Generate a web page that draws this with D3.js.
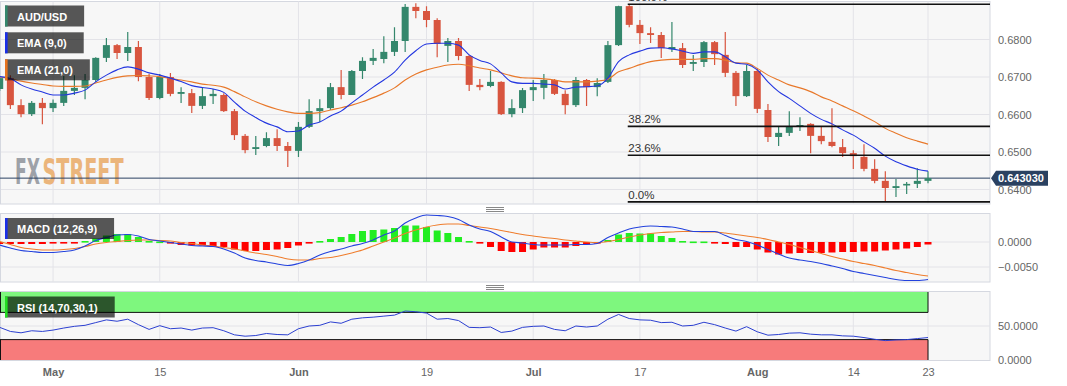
<!DOCTYPE html>
<html><head><meta charset="utf-8">
<script src="https://cdn.jsdelivr.net/npm/d3@7"></script>
<style>
body{margin:0;background:#fff}
svg{display:block}
text{font-family:"Liberation Sans",Arial,sans-serif}
</style>
</head><body>
<svg id="c" width="1067" height="386"></svg>
<script>
// ---------- DATA ----------
const symbol = "AUD/USD";
const startDate = "2023-04-24";
const open = [0.6668,0.6697,0.6625,0.6601,0.6631,0.6617,0.6631,0.6663,0.6671,0.6692,
0.6751,0.6785,0.6764,0.6780,0.6700,0.6644,0.6700,0.6655,0.6657,0.6623,
0.6649,0.6652,0.6609,0.6543,0.6508,0.6516,0.6537,0.6516,0.6503,0.6567,
0.6609,0.6617,0.6673,0.6652,0.6716,0.6743,0.6748,0.6767,0.6796,0.6887,
0.6876,0.6852,0.6783,0.6796,0.6756,0.6679,0.6676,0.6687,0.6601,0.6617,
0.6665,0.6671,0.6692,0.6655,0.6625,0.6692,0.6673,0.6687,0.6785,0.6889,
0.6839,0.6817,0.6812,0.6774,0.6777,0.6735,0.6740,0.6793,0.6759,0.6711,
0.6649,0.6716,0.6612,0.6540,0.6551,0.6567,0.6575,0.6543,0.6527,0.6513,
0.6497,0.6487,0.6455,0.6423,0.6404,0.6412,0.6415,0.6423];
const high = [0.6703,0.6705,0.6641,0.6636,0.6644,0.6640,0.6703,0.6705,0.6708,0.6753,
0.6804,0.6788,0.6820,0.6796,0.6708,0.6708,0.6711,0.6673,0.6668,0.6673,
0.6668,0.6657,0.6615,0.6548,0.6543,0.6553,0.6561,0.6527,0.6580,0.6641,
0.6641,0.6684,0.6719,0.6719,0.6753,0.6775,0.6809,0.6833,0.6895,0.6897,
0.6889,0.6857,0.6804,0.6804,0.6759,0.6695,0.6716,0.6689,0.6641,0.6671,
0.6692,0.6708,0.6695,0.6665,0.6700,0.6695,0.6697,0.6796,0.6890,0.6894,
0.6852,0.6833,0.6820,0.6847,0.6791,0.6759,0.6796,0.6796,0.6820,0.6716,
0.6732,0.6724,0.6628,0.6567,0.6609,0.6593,0.6577,0.6569,0.6617,0.6535,
0.6505,0.6521,0.6481,0.6449,0.6428,0.6420,0.6457,0.6449];
const low = [0.6663,0.6615,0.6593,0.6596,0.6574,0.6607,0.6623,0.6652,0.6641,0.6687,
0.6740,0.6748,0.6743,0.6689,0.6639,0.6641,0.6649,0.6631,0.6604,0.6615,
0.6628,0.6607,0.6532,0.6497,0.6492,0.6513,0.6503,0.6460,0.6487,0.6564,
0.6580,0.6612,0.6641,0.6652,0.6695,0.6732,0.6737,0.6756,0.6767,0.6857,
0.6833,0.6753,0.6740,0.6745,0.6663,0.6665,0.6673,0.6599,0.6593,0.6604,
0.6636,0.6641,0.6652,0.6601,0.6620,0.6623,0.6649,0.6684,0.6783,0.6833,
0.6788,0.6791,0.6751,0.6767,0.6724,0.6716,0.6727,0.6732,0.6700,0.6623,
0.6647,0.6604,0.6527,0.6516,0.6543,0.6556,0.6497,0.6521,0.6513,0.6487,
0.6455,0.6449,0.6417,0.6367,0.6380,0.6388,0.6404,0.6417];
const close = [0.6697,0.6625,0.6601,0.6631,0.6617,0.6631,0.6663,0.6671,0.6692,0.6751,
0.6785,0.6764,0.6780,0.6700,0.6644,0.6700,0.6655,0.6660,0.6623,0.6649,
0.6655,0.6609,0.6545,0.6505,0.6513,0.6537,0.6516,0.6503,0.6567,0.6609,
0.6617,0.6673,0.6652,0.6716,0.6743,0.6751,0.6767,0.6796,0.6887,0.6876,
0.6852,0.6788,0.6796,0.6756,0.6679,0.6673,0.6687,0.6601,0.6617,0.6665,
0.6673,0.6692,0.6655,0.6625,0.6692,0.6673,0.6684,0.6785,0.6889,0.6839,
0.6817,0.6812,0.6777,0.6780,0.6732,0.6740,0.6793,0.6761,0.6711,0.6649,
0.6716,0.6615,0.6540,0.6551,0.6567,0.6572,0.6543,0.6529,0.6516,0.6497,
0.6489,0.6455,0.6423,0.6404,0.6409,0.6415,0.6423,0.64303];
const ema9 = [0.6701,0.6696,0.6679,0.6668,0.6660,0.6652,0.6652,0.6657,0.6665,0.6687,
0.6705,0.6719,0.6727,0.6721,0.6711,0.6705,0.6697,0.6688,0.6677,0.6672,
0.6668,0.6659,0.6633,0.6609,0.6592,0.6577,0.6567,0.6554,0.6556,0.6572,
0.6580,0.6596,0.6609,0.6631,0.6652,0.6673,0.6692,0.6713,0.6745,0.6770,
0.6788,0.6790,0.6790,0.6785,0.6759,0.6744,0.6735,0.6711,0.6687,0.6683,
0.6683,0.6681,0.6679,0.6668,0.6673,0.6674,0.6676,0.6697,0.6741,0.6759,
0.6769,0.6777,0.6778,0.6775,0.6769,0.6763,0.6767,0.6767,0.6754,0.6737,
0.6734,0.6719,0.6687,0.6661,0.6643,0.6623,0.6603,0.6587,0.6575,0.6559,
0.6545,0.6527,0.6510,0.6489,0.6474,0.6463,0.6454,0.6449];
const ema21 = [0.6700,0.6695,0.6689,0.6684,0.6680,0.6676,0.6675,0.6675,0.6676,0.6684,
0.6692,0.6699,0.6703,0.6704,0.6703,0.6701,0.6696,0.6692,0.6687,0.6681,
0.6678,0.6673,0.6661,0.6647,0.6634,0.6623,0.6614,0.6607,0.6603,0.6603,
0.6605,0.6612,0.6618,0.6625,0.6634,0.6645,0.6657,0.6671,0.6692,0.6708,
0.6719,0.6726,0.6732,0.6734,0.6730,0.6724,0.6719,0.6711,0.6703,0.6698,
0.6697,0.6695,0.6692,0.6687,0.6687,0.6687,0.6689,0.6694,0.6714,0.6723,
0.6733,0.6741,0.6745,0.6747,0.6747,0.6747,0.6749,0.6749,0.6745,0.6738,
0.6737,0.6723,0.6705,0.6692,0.6679,0.6671,0.6661,0.6647,0.6636,0.6623,
0.6610,0.6596,0.6581,0.6563,0.6550,0.6538,0.6529,0.6521];
const macdLine = [-0.0006,-0.0012,-0.0017,-0.0019,-0.0021,-0.0021,-0.0019,-0.0016,-0.0008,0.0003,
0.0009,0.0014,0.0015,0.0012,0.0005,0.0002,-0.0001,-0.0004,-0.0007,-0.0008,
-0.0009,-0.0014,-0.0022,-0.0032,-0.0037,-0.0040,-0.0044,-0.0047,-0.0043,-0.0036,
-0.0026,-0.0019,-0.0014,-0.0008,-0.0003,0.0004,0.0014,0.0022,0.0038,0.0048,
0.0054,0.0053,0.0051,0.0045,0.0034,0.0026,0.0021,0.0010,0.0000,-0.0002,
-0.0005,-0.0006,-0.0006,-0.0006,-0.0005,-0.0005,-0.0003,0.0009,0.0018,0.0026,
0.0030,0.0032,0.0031,0.0030,0.0026,0.0021,0.0021,0.0021,0.0013,0.0005,
0.0001,-0.0006,-0.0015,-0.0024,-0.0032,-0.0036,-0.0039,-0.0043,-0.0048,-0.0053,
-0.0059,-0.0063,-0.0067,-0.0071,-0.0075,-0.0077,-0.0077,-0.0075];
const signalLine = [0.0001,-0.0005,-0.0011,-0.0014,-0.0016,-0.0016,-0.0015,-0.0013,-0.0009,-0.0004,
-0.0001,0.0001,0.0003,0.0004,0.0004,0.0003,0.0002,-0.0001,-0.0003,-0.0006,
-0.0008,-0.0011,-0.0014,-0.0018,-0.0022,-0.0025,-0.0029,-0.0034,-0.0036,-0.0036,
-0.0033,-0.0031,-0.0027,-0.0022,-0.0016,-0.0008,0.0000,0.0008,0.0017,0.0024,
0.0030,0.0034,0.0036,0.0036,0.0033,0.0030,0.0027,0.0023,0.0019,0.0015,
0.0012,0.0009,0.0007,0.0004,0.0002,0.0000,-0.0001,0.0001,0.0005,0.0010,
0.0014,0.0017,0.0019,0.0020,0.0021,0.0021,0.0020,0.0020,0.0018,0.0015,
0.0012,0.0009,0.0005,0.0000,-0.0005,-0.0011,-0.0017,-0.0023,-0.0029,-0.0034,
-0.0039,-0.0043,-0.0047,-0.0052,-0.0057,-0.0061,-0.0065,-0.0068];
const macdHist = [-0.0004,-0.0004,-0.0004,-0.0004,-0.0004,-0.0003,-0.0003,-0.0002,0.0002,0.0007,
0.0013,0.0016,0.0016,0.0010,0.0002,0.0001,-0.0001,-0.0006,-0.0007,-0.0007,
-0.0008,-0.0010,-0.0015,-0.0018,-0.0018,-0.0016,-0.0015,-0.0012,-0.0007,-0.0002,
0.0002,0.0006,0.0010,0.0016,0.0022,0.0024,0.0025,0.0028,0.0033,0.0033,
0.0030,0.0023,0.0018,0.0010,0.0002,-0.0002,-0.0010,-0.0018,-0.0020,-0.0020,
-0.0015,-0.0011,-0.0011,-0.0011,-0.0008,-0.0005,-0.0003,0.0004,0.0015,0.0018,
0.0017,0.0017,0.0012,0.0008,0.0002,0.0001,0.0001,-0.0001,-0.0004,-0.0010,
-0.0010,-0.0015,-0.0021,-0.0025,-0.0023,-0.0022,-0.0022,-0.0022,-0.0021,-0.0020,
-0.0020,-0.0019,-0.0019,-0.0017,-0.0015,-0.0013,-0.0010,-0.0005];
const rsi = [48,42,40,43,42,44,47,49.5,51,55,
59,57,60,52,45,50.5,46,47,44,47,
47.5,43,37,35,36,39,37.5,37,46,50,
51,56,54,60,62,63,64.5,66,72,71,
69,60,61,58,48,47.5,48.5,40.5,42.5,48,
49.5,50,45,43,50,48.5,50,60,67,61,
59,58.5,55,55.5,50,51,55.5,52,47,42.5,
49,41.5,36.5,37.5,39.5,40,38,37,37,35.5,
35,33,30.5,28.5,29.5,30,31.5,33];
const priceTicks = [0.64, 0.65, 0.66, 0.67, 0.68];
const macdTicks = [0, -0.005];
const rsiTicks = [0, 50];
const rsiBands = {upper: 70, lower: 30};
const fibHigh = 0.6894, fibLow = 0.6367, fibStart = "2023-07-14";
const fibLevels = [0, 0.236, 0.382, 1];
const tickDates = ["2023-05-01","2023-05-15","2023-06-01","2023-06-19","2023-07-03","2023-07-17","2023-08-01","2023-08-14","2023-08-23"];
const tickLabels = ["May","15","Jun","19","Jul","17","Aug","14","23"];
const legendMain = ["AUD/USD","EMA (9,0)","EMA (21,0)"];

// ---------- LAYOUT ----------
const n = close.length;
const R = 990;
const P = {main:[1.5,204], macd:[213.5,282], rsi:[291.5,360.5]};
const C = {up:"#34876c", down:"#d8553f", ema9:"#2336e0", ema21:"#e8782a",
  grid:"#e3e3e8", border:"#d5d8e0", bg:"#f7f7f7", axis:"#666", price:"#2a4161"};
const svg = d3.select("#c");
const key = d3.utcFormat("%Y-%m-%d");
const days = d3.utcDay.range(new Date(startDate+"T00:00:00Z"), new Date("2023-12-31T00:00:00Z"))
  .filter(d => d.getUTCDay() !== 0 && d.getUTCDay() !== 6).slice(0, n);
const keys = days.map(key);
const x = d3.scalePoint().domain(keys).range([-0.3, 928]);
const y = d3.scaleLinear().domain([0.64, 0.68]).range([189.5, 39.5]);
const yM = d3.scaleLinear().domain([-0.005, 0]).range([267, 242]);
const yR = d3.scaleLinear().domain([0, 100]).range([360, 292]);

// clip paths
const defs = svg.append("defs");
Object.entries(P).forEach(([k,[t,b]]) => {
  defs.append("clipPath").attr("id","clip-"+k).append("rect").attr("x",0).attr("y",t).attr("width",R).attr("height",b-t);
});

// panel backgrounds
Object.values(P).forEach(([t,b]) => {
  svg.append("rect").attr("x",0.5).attr("y",t).attr("width",R-0.5).attr("height",b-t)
    .attr("fill",C.bg).attr("stroke",C.border);
});

// vertical grid
Object.values(P).forEach(([t,b]) => {
  svg.append("g").selectAll("line").data(tickDates).join("line")
    .attr("x1",d=>x(d)).attr("x2",d=>x(d)).attr("y1",t).attr("y2",b)
    .attr("stroke",C.grid);
});
// horizontal grid
const hgrid = (scale, ticks) => svg.append("g").selectAll("line").data(ticks).join("line")
  .attr("x1",1).attr("x2",R).attr("y1",d=>scale(d)).attr("y2",d=>scale(d)).attr("stroke",C.grid);
hgrid(y, priceTicks); hgrid(yM, macdTicks); hgrid(yR, rsiTicks.filter(d=>d>0));

// separators (drag handles)
[207, 285].forEach(s => {
  svg.append("g").selectAll("line").data([0,2,4]).join("line")
    .attr("x1",486).attr("x2",504).attr("y1",d=>s+d+0.5).attr("y2",d=>s+d+0.5)
    .attr("stroke","#7a7a7a").attr("stroke-width",0.9);
});

// ---------- MAIN ----------
const gm = svg.append("g").attr("clip-path","url(#clip-main)");
// watermark (single text, two coloured parts)
const wm = gm.append("text").attr("x",15).attr("y",184).attr("font-weight","bold").attr("font-size",35)
  .style("font-family","'DejaVu Sans Condensed','Liberation Sans Narrow',sans-serif");
wm.append("tspan").attr("x",15).attr("textLength",25).attr("lengthAdjust","spacingAndGlyphs")
  .attr("fill","#9da1a8").text("FX");
wm.append("tspan").attr("x",42.5).attr("textLength",81).attr("lengthAdjust","spacingAndGlyphs")
  .attr("fill","#ebb57b").text("STREET");

// current price line
const last = close[n-1];
gm.append("line").attr("x1",0).attr("x2",R).attr("y1",y(last)).attr("y2",y(last))
  .attr("stroke",C.price).attr("stroke-width",1);

// fibonacci
const fibs = fibLevels.map(l => ({l, v: fibLow + l*(fibHigh-fibLow)}));
svg.append("g").selectAll("line").data(fibs).join("line")
  .attr("x1",x(fibStart)-1.5).attr("x2",R).attr("y1",d=>y(d.v)).attr("y2",d=>y(d.v))
  .attr("stroke","#111").attr("stroke-width",1.6);
svg.append("g").selectAll("text").data(fibs).join("text")
  .attr("x",x(fibStart)-1).attr("y",d=>y(d.v)-3).attr("font-size",11.5).attr("fill","#333")
  .text(d=>d3.format(".1f")(d.l*100)+"%");

// candles
const candles = keys.map((k,i)=>({k,o:open[i],h:high[i],l:low[i],c:close[i]}));
const col = d => d.c >= d.o ? C.up : C.down;
gm.append("g").selectAll("line").data(candles).join("line")
  .attr("x1",d=>x(d.k)).attr("x2",d=>x(d.k)).attr("y1",d=>y(d.h)).attr("y2",d=>y(d.l))
  .attr("stroke",col).attr("stroke-width",1.2);
gm.append("g").selectAll("rect").data(candles).join("rect")
  .attr("x",d=>x(d.k)-3.5).attr("width",7)
  .attr("y",d=>y(Math.max(d.o,d.c)))
  .attr("height",d=>Math.max(1.6, Math.abs(y(d.o)-y(d.c))))
  .attr("fill",col);

// EMAs
const lineOf = (scale) => d3.line().x((v,i)=>x(keys[i])).y(v=>scale(v)).curve(d3.curveMonotoneX);
gm.append("path").datum(ema21).attr("d",lineOf(y)).attr("fill","none").attr("stroke",C.ema21).attr("stroke-width",1.1);
gm.append("path").datum(ema9).attr("d",lineOf(y)).attr("fill","none").attr("stroke",C.ema9).attr("stroke-width",1.1);

// ---------- MACD ----------
const gmc = svg.append("g").attr("clip-path","url(#clip-macd)");
gmc.append("g").selectAll("rect").data(macdHist).join("rect")
  .attr("x",(v,i)=>x(keys[i])-3.5).attr("width",7)
  .attr("y",v=> v>=0 ? yM(v) : yM(0))
  .attr("height",v=>Math.max(1.6, Math.abs(yM(v)-yM(0))))
  .attr("fill",v=> v>=0 ? "#22ee22" : "#ff0000");
gmc.append("path").datum(signalLine).attr("d",lineOf(yM)).attr("fill","none").attr("stroke","#ef7d2d").attr("stroke-width",1.1);
gmc.append("path").datum(macdLine).attr("d",lineOf(yM)).attr("fill","none").attr("stroke","#2342dd").attr("stroke-width",1.1);

// ---------- RSI ----------
const gr = svg.append("g").attr("clip-path","url(#clip-rsi)");
const xEnd = x(keys[n-1]);
gr.append("rect").attr("x",0).attr("width",xEnd).attr("y",yR(100)).attr("height",yR(rsiBands.upper)-yR(100)).attr("fill","#7ef77e");
gr.append("rect").attr("x",0).attr("width",xEnd).attr("y",yR(rsiBands.lower)).attr("height",yR(0)-yR(rsiBands.lower)).attr("fill","#f77b7b");
const bandEdges = [[yR(100),yR(rsiBands.upper)],[yR(rsiBands.lower),yR(0)]];
bandEdges.forEach(([t,b])=>{
  gr.append("line").attr("x1",xEnd).attr("x2",xEnd).attr("y1",t).attr("y2",b).attr("stroke","#111");
  gr.append("line").attr("x1",0.5).attr("x2",0.5).attr("y1",t).attr("y2",b).attr("stroke","#111");
});
[rsiBands.upper, rsiBands.lower].forEach(v=>{
  gr.append("line").attr("x1",0).attr("x2",xEnd).attr("y1",yR(v)).attr("y2",yR(v)).attr("stroke","#111");
});
gr.append("path").datum(rsi).attr("d",d3.line().x((v,i)=>x(keys[i])).y(v=>yR(v))).attr("fill","none").attr("stroke","#2b3fd0").attr("stroke-width",1);

// ---------- LEGENDS ----------
function legend(x0, y0, label, color){
  const g = svg.append("g");
  const r = g.append("rect").attr("x",x0).attr("y",y0).attr("height",21).attr("fill","rgba(0,0,0,0.65)");
  g.append("rect").attr("x",x0).attr("y",y0).attr("width",2.6).attr("height",21).attr("fill",color);
  const t = g.append("text").attr("x",x0+12).attr("y",y0+15).attr("fill","#fff")
    .attr("font-weight","bold").attr("font-size",11).text(label);
  r.attr("width", t.node().getComputedTextLength()+29);
}
legend(5, 5.5, legendMain[0], C.up);
legend(5, 32.3, legendMain[1], "#1a2fe8");
legend(5, 59.3, legendMain[2], "#e8741f");
legend(5, 218, "MACD (12,26,9)", "#1a2fe8");
legend(5, 296.5, "RSI (14,70,30,1)", "#22dd22");

// ---------- AXES ----------
function rightAxis(scale, ticks, fmt){
  const g = svg.append("g").attr("transform",`translate(${R},0)`)
    .call(d3.axisRight(scale).tickValues(ticks).tickSize(0).tickPadding(8).tickFormat(fmt));
  g.select(".domain").remove();
  g.selectAll("text").attr("fill",C.axis).attr("font-size",11).style("font-family","'Liberation Sans',Arial,sans-serif");
}
rightAxis(y, priceTicks, d3.format(".4f"));
rightAxis(yM, macdTicks, d3.format(".4f"));
rightAxis(yR, rsiTicks, d3.format(".4f"));

const lab = new Map(tickDates.map((d,i)=>[d,tickLabels[i]]));
const xa = svg.append("g").attr("transform",`translate(0,${P.rsi[1]})`)
  .call(d3.axisBottom(x).tickValues(tickDates).tickSize(0).tickPadding(8).tickFormat(d=>lab.get(d)));
xa.select(".domain").remove();
xa.selectAll("text").attr("fill",C.axis).attr("font-size",11)
  .attr("font-weight",d=>isNaN(+lab.get(d))?"bold":"normal")
  .style("font-family","'Liberation Sans',Arial,sans-serif");

// current price tag
const ly = y(last);
svg.append("path").attr("d",`M${R+1},${ly} L${R+6},${ly-7.5} L${R+58},${ly-7.5} L${R+58},${ly+7.5} L${R+6},${ly+7.5} Z`)
  .attr("fill",C.price);
svg.append("text").attr("x",R+8).attr("y",ly+4).attr("fill","#fff").attr("font-weight","bold")
  .attr("font-size",11).text(d3.format(".6f")(last));
</script>
</body></html>
